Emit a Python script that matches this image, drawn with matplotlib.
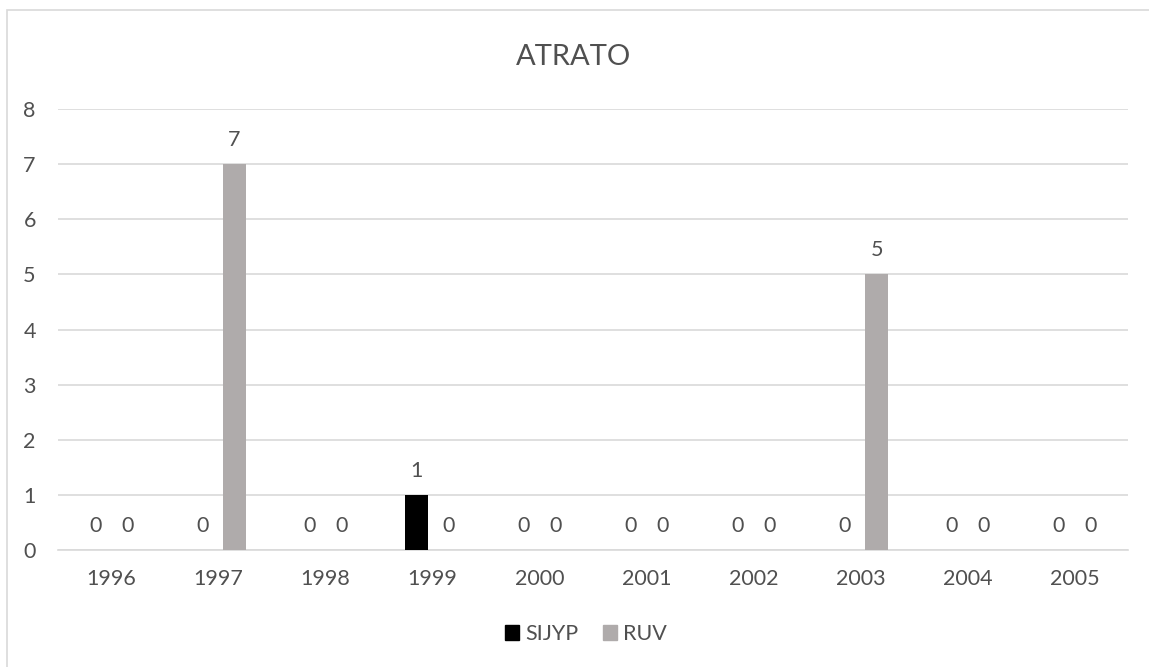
import matplotlib
matplotlib.use("Agg")
import matplotlib.pyplot as plt
from matplotlib.patches import Rectangle, Patch
import numpy as np

years = ["1996", "1997", "1998", "1999", "2000", "2001", "2002", "2003", "2004", "2005"]
sijyp = [0, 0, 0, 1, 0, 0, 0, 0, 0, 0]
ruv = [0, 7, 0, 0, 0, 0, 0, 5, 0, 0]
series_names = ["SIJYP", "RUV"]
title = "ATRATO"

plt.rcParams['font.family'] = ['Lato', 'DejaVu Sans']
txt = "#505050"
c_sijyp = "#000000"
c_ruv = "#AFABAB"
fs = 15.5

fig = plt.figure(figsize=(11.49, 6.67), dpi=100)
fig.patches.append(Rectangle((7/1149, -0.1), 1.2, (667-10)/667 + 0.1, transform=fig.transFigure,
                             fill=False, edgecolor="#D9D9D9", linewidth=1.2, zorder=0))
ax = fig.add_axes([58/1149, (667-550)/667, 1070/1149, 441/667])

x = np.arange(len(years))
w = 0.215
off = 0.15
ax.bar(x - off, sijyp, width=w, color=c_sijyp, zorder=3, label=series_names[0])
ax.bar(x + off, ruv, width=w, color=c_ruv, zorder=3, label=series_names[1])

for xi, v in zip(x, sijyp):
    ax.annotate(str(v), (xi - off, v), xytext=(0, 17.5), textcoords="offset points",
                ha="center", va="center", fontsize=fs, color=txt)
for xi, v in zip(x, ruv):
    ax.annotate(str(v), (xi + off, v), xytext=(0, 17.5), textcoords="offset points",
                ha="center", va="center", fontsize=fs, color=txt)

ax.set_xlim(-0.5, len(years) - 0.5)
ax.set_ylim(0, 8)
ax.set_yticks(range(0, 9))
ax.set_xticks(x)
ax.set_xticklabels(years)
ax.grid(axis="y", color="#D9D9D9", linewidth=1.2, zorder=0)
for s in ax.spines.values():
    s.set_visible(False)
ax.spines["bottom"].set_visible(True)
ax.spines["bottom"].set_color("#D9D9D9")
ax.spines["bottom"].set_linewidth(1.2)
ax.tick_params(axis="both", length=0, labelsize=fs, colors=txt)
ax.tick_params(axis="x", pad=14)
ax.tick_params(axis="y", pad=16)

fig.text(574/1149, 1 - 57/667, title, ha="center", va="center", fontsize=21, color=txt)

handles = [Patch(color=c_sijyp), Patch(color=c_ruv)]
fig.legend(handles, series_names, loc="center", bbox_to_anchor=(586/1149, 1 - 634/667),
           ncol=2, frameon=False, fontsize=fs, labelcolor=txt, handlelength=0.65,
           handleheight=0.65, handletextpad=0.3, columnspacing=1.1)

fig.savefig("out.png", dpi=100)
